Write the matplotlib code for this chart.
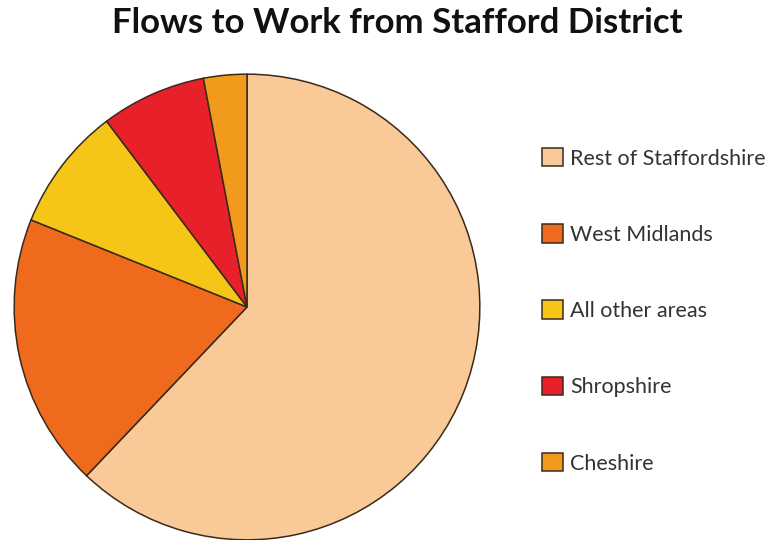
import matplotlib.pyplot as plt

# Flows to work - share of commuters (%)
areas = ["Rest of Staffordshire", "West Midlands", "All other areas", "Shropshire", "Cheshire"]
shares = [62.1, 19.0, 8.6, 7.3, 3.0]
colours = ["#F9C997", "#F06A1E", "#F5C518", "#E8202A", "#F29A1C"]

plt.rcParams['font.family'] = ['Lato', 'DejaVu Sans']

fig = plt.figure(figsize=(7.76, 5.4), dpi=100)
fig.patch.set_facecolor("white")

# pie axes: centre about (247, 307) px, radius 234 px
ax = fig.add_axes([13/776, -1/540, 468/776, 468/540])
wedges, _ = ax.pie(shares, colors=colours, startangle=90, counterclock=False,
                   wedgeprops=dict(edgecolor="#3a2a1a", linewidth=1.1))
ax.set_xlim(-1.005, 1.005)
ax.set_ylim(-1.005, 1.005)
ax.set_aspect("equal")
ax.axis("off")

fig.text(0.512, 0.939, "Flows to Work from Stafford District", ha="center", va="baseline",
         fontsize=25, fontweight="bold", color="#111111")

leg = fig.legend(wedges, areas, loc="upper left", bbox_to_anchor=(0.688, 0.742),
                 frameon=False, fontsize=15.5, handlelength=0.95, handleheight=0.95,
                 handletextpad=0.33, labelspacing=2.58, borderaxespad=0)
for t in leg.get_texts():
    t.set_color("#333333")

fig.savefig("out.png", dpi=100)
